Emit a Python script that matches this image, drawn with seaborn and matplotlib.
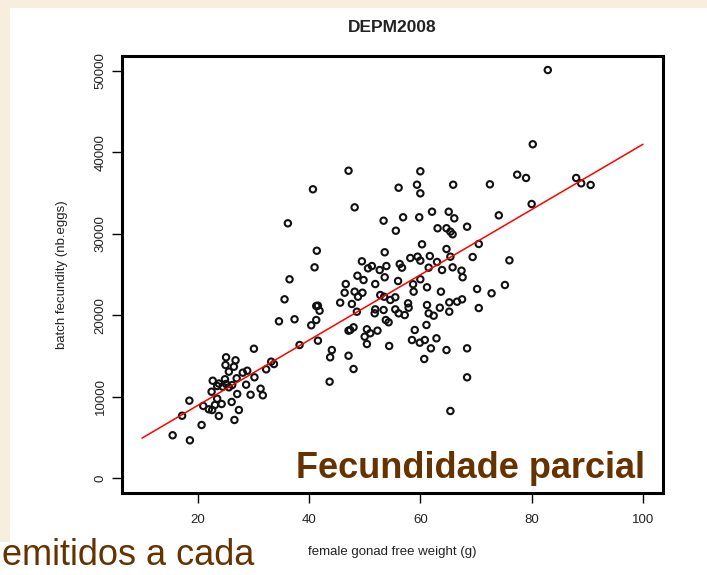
import numpy as np
import pandas as pd
import matplotlib
matplotlib.use("Agg")
import matplotlib.pyplot as plt
import seaborn as sns
from matplotlib.patches import Rectangle

# ---- data ----
weight_low = [15.5, 18.6, 17.2, 18.5, 20.7, 21.0, 22.0, 22.6, 23.1, 24.3, 23.5, 23.8, 26.1, 26.6,
              27.4, 27.1, 29.5, 31.3, 31.7, 28.7, 22.5, 22.7, 23.8, 24.5, 25.6, 26.2, 23.5, 25.1,
              24.9, 27.0, 28.1, 28.9, 25.6, 26.5, 25.0, 25.1, 26.8, 30.2, 32.3, 33.7, 33.2, 30.1]
eggs_low = [5250, 4630, 7650, 9500, 6510, 8850, 8440, 8350, 8970, 9090, 9740, 7620, 9340, 7130,
            8350, 10320, 10230, 10970, 10160, 11460, 10600, 11950, 11600, 11220, 11140, 11420, 11300, 11550,
            12130, 12250, 12940, 13180, 13060, 13670, 13880, 14830, 14460, 12370, 13350, 14000, 14290, 15880]

weight_midleft = [34.6, 37.4, 40.4, 41.3, 41.6, 38.3, 35.6, 41.3, 36.5, 36.2, 40.7, 41.4, 41.0,
                  41.6, 41.9, 44.1, 43.8, 47.1, 48.0, 43.7]
eggs_midleft = [19250, 19500, 18760, 19410, 16870, 16340, 21950, 21130, 24410, 31290, 35470, 27920, 25880,
                21170, 20550, 15720, 14830, 15020, 13390, 11830]

weight_mid = [47.1, 48.2, 53.4, 55.6, 56.1, 59.4, 60.0, 60.0, 65.9, 62.1, 65.1, 66.1, 56.9, 59.8,
              63.1, 64.7, 65.4, 65.8, 68.4, 60.3, 64.7, 53.6, 49.5, 58.2, 59.5, 60.0, 61.7, 65.4,
              51.3, 50.6, 52.7, 53.9, 56.3, 56.7, 61.5, 63.0, 63.9, 65.8, 67.4, 67.6, 48.7, 49.8,
              53.6, 56.0, 60.0, 46.6, 46.4, 48.2, 49.6, 51.9, 58.7, 61.2, 58.8, 63.7, 48.8, 52.8,
              53.5, 54.6, 55.5, 45.6, 47.7, 57.8, 61.2, 63.5, 65.2, 66.6, 67.5, 48.6, 51.9, 53.4,
              51.8, 55.5, 56.1, 57.2, 57.9, 61.5, 62.4, 65.2, 53.8, 54.3, 47.4, 48.0, 47.1, 52.3,
              50.4, 51.0, 50.0, 61.1, 50.4, 54.4, 59.0, 58.5, 59.9, 60.8, 62.9, 61.9, 64.7, 60.7,
              68.4, 68.4, 65.4]
eggs_mid = [37750, 33250, 31610, 30380, 35660, 36030, 37680, 34970, 36030, 32710, 32710, 31900, 32030, 32030,
            30680, 30680, 30260, 29940, 30870, 28710, 28130, 27730, 26620, 27030, 27190, 26700, 27270, 27190,
            26040, 25760, 25550, 26040, 26290, 25840, 25840, 26540, 25550, 25880, 25470, 24660, 24850, 24320,
            24660, 24200, 24410, 23830, 22760, 22890, 22760, 23830, 23800, 23430, 22890, 22890, 22270, 22480,
            22270, 21870, 22200, 21540, 21380, 21460, 21250, 20920, 21580, 21660, 21950, 20430, 20720, 20640,
            20230, 20720, 20230, 20020, 20920, 20230, 19940, 20430, 19410, 19130, 18180, 18510, 18100, 18100,
            18270, 17780, 17360, 18800, 16460, 16220, 18180, 16950, 16620, 16950, 17160, 15930, 15720, 14620,
            15930, 12370, 8230]

weight_high = [82.9, 80.2, 77.4, 79.0, 72.5, 88.0, 88.9, 90.6, 80.0, 74.1, 70.5, 69.4, 76.0,
               70.2, 75.2, 72.8, 70.5]
eggs_high = [50120, 41000, 37260, 36860, 36080, 36860, 36200, 36000, 33660, 32270, 28750, 27150, 26740,
             23220, 23710, 22690, 20880]

fit_x = [10, 100]
fit_y = [4900, 41000]

x_ticks = [20, 40, 60, 80, 100]
y_ticks = [0, 10000, 20000, 30000, 40000, 50000]

title = "DEPM2008"
x_label = "female gonad free weight (g)"
y_label = "batch fecundity (nb.eggs)"
overlay = "Fecundidade parcial"
slide_text = "emitidos a cada"

# ---- build table ----
df = pd.DataFrame({
    "weight": weight_low + weight_midleft + weight_mid + weight_high,
    "eggs": eggs_low + eggs_midleft + eggs_mid + eggs_high,
})

sns.set_style("white")
plt.rcParams["font.family"] = ["Liberation Sans", "DejaVu Sans"]

W, H = 707, 575
fig = plt.figure(figsize=(W / 100, H / 100), dpi=100)
fig.patch.set_facecolor("white")

beige = "#F7EEDD"
fig.patches.append(Rectangle((0, 1 - 8 / H), 1, 8 / H, transform=fig.transFigure,
                             facecolor=beige, edgecolor="none", zorder=0))
fig.patches.append(Rectangle((0, 1 - 542 / H), 10 / W, 542 / H, transform=fig.transFigure,
                             facecolor=beige, edgecolor="none", zorder=0))

L, R, T, B = 122, 663, 56, 493
ax = fig.add_axes([L / W, 1 - B / H, (R - L) / W, (B - T) / H])
ax.set_facecolor("white")

sns.scatterplot(data=df, x="weight", y="eggs", ax=ax, marker="o", s=21,
                facecolors="none", edgecolors="#111111", linewidths=1.5, legend=False, zorder=3)
sns.lineplot(x=fit_x, y=fit_y, ax=ax, color="red", linewidth=1.1, zorder=4)

ax.set_xlim(6.4, 103.6)
ax.set_ylim(-1843, 51843)

ax.set_xticks(x_ticks)
ax.set_xticklabels([str(v) for v in x_ticks], fontsize=9.5)
ax.set_yticks(y_ticks)
ax.set_yticklabels([str(v) for v in y_ticks], fontsize=9.5, rotation=90, va="center")
ax.tick_params(axis="both", direction="out", length=7, width=1.0, color="black",
               labelcolor="#222222", left=True, bottom=True)
ax.tick_params(axis="x", pad=8)
ax.tick_params(axis="y", pad=4)

for sp in ax.spines.values():
    sp.set_visible(True)
    sp.set_color("black")
    sp.set_linewidth(2.2)

ax.set_xlabel(x_label, fontsize=9.5, color="#222222")
ax.xaxis.label.set_va("center")
ax.xaxis.set_label_coords(0.5, (B - 552) / (B - T))
ax.set_ylabel(y_label, fontsize=9.5, color="#222222")
ax.yaxis.label.set_va("center")
ax.yaxis.set_label_coords((62 - L) / (R - L), 0.5)

ax.set_title(title, fontsize=12.5, fontweight="bold", color="#222222",
             y=(B - 32.5) / (B - T), pad=0, va="baseline")

ax.text((645 - L) / (R - L), (B - 478) / (B - T), overlay, transform=ax.transAxes,
        ha="right", va="baseline", fontsize=26, fontweight="bold", color="#663300", zorder=6)

fig.text(2 / W, 2 / H, slide_text, ha="left", va="bottom", fontsize=26, color="#663300")

fig.savefig("out.png", dpi=100)
